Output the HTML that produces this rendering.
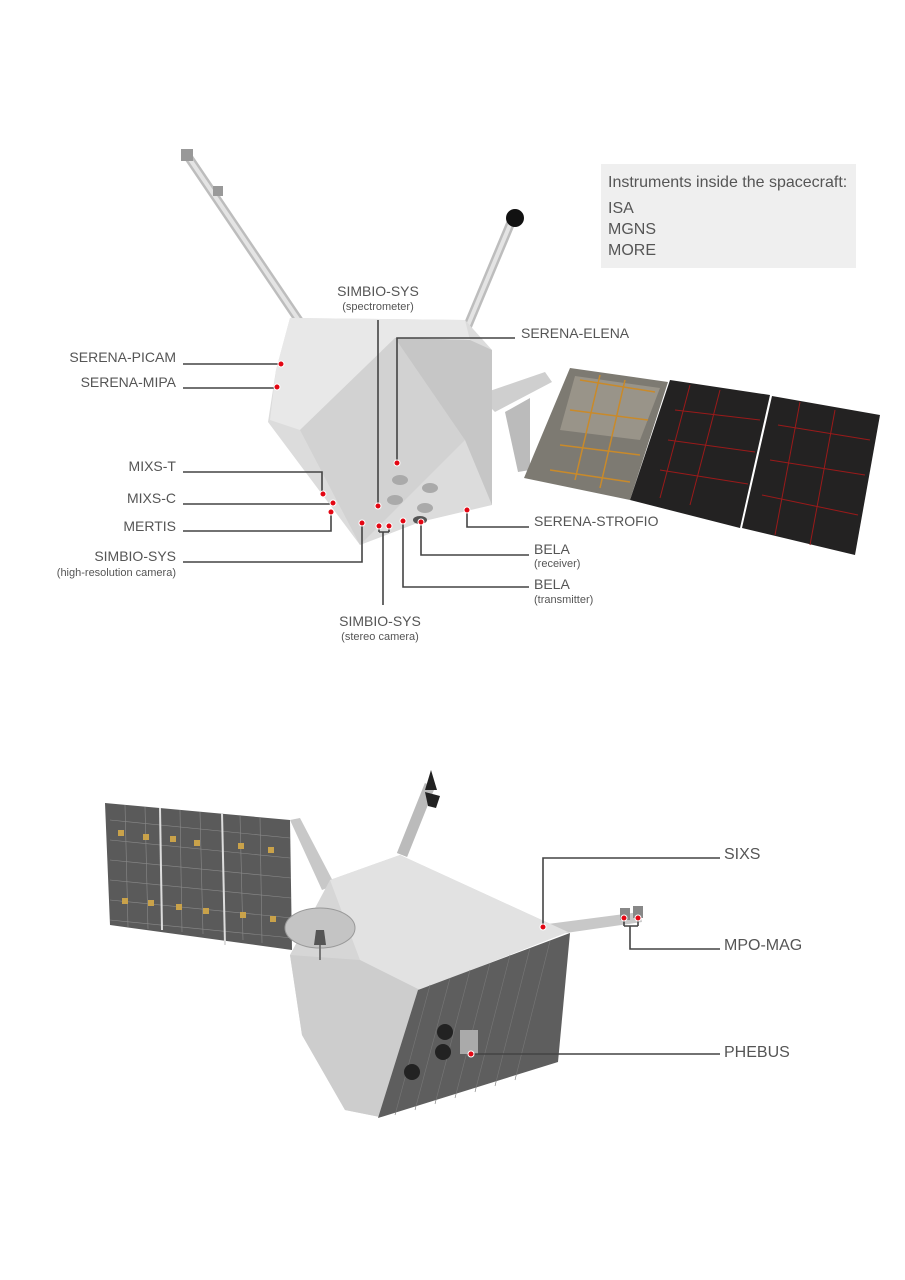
<!DOCTYPE html>
<html><head><meta charset="utf-8"><style>
html,body{margin:0;padding:0;background:#fff;}
svg{display:block;}
text{font-family:"Liberation Sans Narrow","Liberation Sans",sans-serif;fill:#555;}
.l{font-size:14px;}
.b{font-size:16px;}
.s{font-size:11px;}
.ln{stroke:#444;stroke-width:1.6;fill:none;}
.d{fill:#e30613;stroke:#fff;stroke-width:1;}
</style></head><body>
<svg width="905" height="1280" viewBox="0 0 905 1280" xmlns="http://www.w3.org/2000/svg">
<rect width="905" height="1280" fill="#fff"/>
<rect x="601" y="164" width="255" height="104" fill="#efefef"/>
<text class="b" x="608" y="187">Instruments inside the spacecraft:</text>
<text class="b" x="608" y="213">ISA</text>
<text class="b" x="608" y="234">MGNS</text>
<text class="b" x="608" y="255">MORE</text>

<!-- TOP SPACECRAFT -->
<line x1="187" y1="155" x2="300" y2="322" stroke="#bdbdbd" stroke-width="9"/>
<line x1="187" y1="155" x2="300" y2="322" stroke="#e4e4e4" stroke-width="4"/>
<rect x="181" y="149" width="12" height="12" fill="#999"/>
<rect x="213" y="186" width="10" height="10" fill="#999"/>
<line x1="512" y1="220" x2="466" y2="330" stroke="#bdbdbd" stroke-width="9"/>
<line x1="512" y1="220" x2="466" y2="330" stroke="#e4e4e4" stroke-width="4"/>
<circle cx="515" cy="218" r="9" fill="#111"/>
<polygon points="478,395 545,372 552,382 495,412" fill="#cfcfcf"/>
<polygon points="505,412 530,398 530,470 518,472" fill="#bbb"/>
<polygon points="570,368 668,382 630,500 524,478" fill="#7d7a72"/>
<polygon points="575,376 660,388 640,440 560,430" fill="#999489"/>
<polygon points="670,380 770,395 740,528 630,500" fill="#232222"/>
<polygon points="772,396 880,415 855,555 742,528" fill="#232222"/>
<g stroke="#9a1a1a" stroke-width="1" fill="none">
<path d="M675,410 L760,420 M668,440 L755,452 M660,470 L748,484 M690,385 L660,498 M720,390 L690,505 M778,425 L870,440 M770,460 L865,475 M762,495 L858,515 M800,402 L775,535 M835,410 L810,545"/>
</g>
<g stroke="#c98a2a" stroke-width="1.5" fill="none">
<path d="M580,380 L655,392 M570,410 L648,420 M560,445 L640,455 M550,470 L630,482 M600,375 L575,480 M625,380 L600,488"/>
</g>
<polygon points="290,318 465,320 492,350 492,505 420,522 360,545 268,422 276,370" fill="#dcdcdc"/>
<polygon points="290,318 465,320 470,340 395,338 300,430 270,420 276,370" fill="#e8e8e8"/>
<polygon points="300,430 395,338 470,340 465,440 360,545" fill="#d2d2d2"/>
<polygon points="395,338 470,340 492,350 492,505 465,440" fill="#c6c6c6"/>
<g fill="#aaa"><ellipse cx="400" cy="480" rx="8" ry="5"/><ellipse cx="430" cy="488" rx="8" ry="5"/><ellipse cx="395" cy="500" rx="8" ry="5"/><ellipse cx="425" cy="508" rx="8" ry="5"/><ellipse cx="420" cy="520" rx="7" ry="4" fill="#555"/></g>

<path class="ln" d="M183,364 H280"/>
<path class="ln" d="M183,388 H276"/>
<path class="ln" d="M183,472 H322 V494"/>
<path class="ln" d="M183,504 H332"/>
<path class="ln" d="M183,531 H331 V512"/>
<path class="ln" d="M183,562 H362 V523"/>
<path class="ln" d="M378,320 V506"/>
<path class="ln" d="M515,338 H397 V463"/>
<path class="ln" d="M529,527 H467 V510"/>
<path class="ln" d="M529,555 H421 V522"/>
<path class="ln" d="M529,587 H403 V521"/>
<path class="ln" d="M383,605 V532 M379,532 H389 M379,532 V526 M389,532 V526"/>
<g class="d">
<circle cx="281" cy="364" r="3"/><circle cx="277" cy="387" r="3"/>
<circle cx="323" cy="494" r="3"/><circle cx="333" cy="503" r="3"/><circle cx="331" cy="512" r="3"/>
<circle cx="362" cy="523" r="3"/><circle cx="378" cy="506" r="3"/><circle cx="379" cy="526" r="3"/><circle cx="389" cy="526" r="3"/>
<circle cx="397" cy="463" r="3"/><circle cx="467" cy="510" r="3"/><circle cx="421" cy="522" r="3"/><circle cx="403" cy="521" r="3"/>
</g>
<text class="l" x="176" y="362" text-anchor="end">SERENA-PICAM</text>
<text class="l" x="176" y="387" text-anchor="end">SERENA-MIPA</text>
<text class="l" x="176" y="471" text-anchor="end">MIXS-T</text>
<text class="l" x="176" y="503" text-anchor="end">MIXS-C</text>
<text class="l" x="176" y="531" text-anchor="end">MERTIS</text>
<text class="l" x="176" y="561" text-anchor="end">SIMBIO-SYS</text>
<text class="s" x="176" y="576" text-anchor="end">(high-resolution camera)</text>
<text class="l" x="378" y="296" text-anchor="middle">SIMBIO-SYS</text>
<text class="s" x="378" y="310" text-anchor="middle">(spectrometer)</text>
<text class="l" x="521" y="338">SERENA-ELENA</text>
<text class="l" x="534" y="526">SERENA-STROFIO</text>
<text class="l" x="534" y="554">BELA</text>
<text class="s" x="534" y="567">(receiver)</text>
<text class="l" x="534" y="589">BELA</text>
<text class="s" x="534" y="603">(transmitter)</text>
<text class="l" x="380" y="626" text-anchor="middle">SIMBIO-SYS</text>
<text class="s" x="380" y="640" text-anchor="middle">(stereo camera)</text>

<!-- BOTTOM SPACECRAFT -->
<polygon points="105,803 290,820 292,950 110,925" fill="#5a5a5a"/>
<g stroke="#8a8a8a" stroke-width="0.6">
<path d="M110,820 L290,838 M110,840 L290,858 M110,860 L291,878 M110,880 L291,898 M110,900 L292,918 M110,920 L292,938"/>
<path d="M125,805 L128,927 M145,807 L148,929 M180,810 L182,932 M200,812 L203,934 M240,815 L243,940 M260,817 L262,943"/>
</g>
<line x1="160" y1="808" x2="162" y2="930" stroke="#ddd" stroke-width="2"/>
<line x1="222" y1="813" x2="225" y2="945" stroke="#ddd" stroke-width="2"/>
<g fill="#c9a24a"><rect x="118" y="830" width="6" height="6"/><rect x="143" y="834" width="6" height="6"/><rect x="170" y="836" width="6" height="6"/><rect x="194" y="840" width="6" height="6"/><rect x="238" y="843" width="6" height="6"/><rect x="268" y="847" width="6" height="6"/><rect x="122" y="898" width="6" height="6"/><rect x="148" y="900" width="6" height="6"/><rect x="176" y="904" width="6" height="6"/><rect x="203" y="908" width="6" height="6"/><rect x="240" y="912" width="6" height="6"/><rect x="270" y="916" width="6" height="6"/></g>
<polygon points="290,820 300,818 335,885 322,890" fill="#c8c8c8"/>
<line x1="402" y1="855" x2="430" y2="785" stroke="#bbb" stroke-width="11"/>
<polygon points="425,790 437,790 431,770" fill="#222"/>
<polygon points="425,792 440,796 436,808 428,806" fill="#222"/>
<polygon points="540,925 640,912 642,922 545,936" fill="#c8c8c8"/>
<rect x="620" y="908" width="10" height="12" fill="#888"/><rect x="633" y="906" width="10" height="12" fill="#888"/>
<polygon points="290,955 330,880 400,855 568,932 420,990 380,1117 345,1110 302,1035" fill="#d6d6d6"/>
<polygon points="330,880 400,855 568,932 420,990 360,960" fill="#e2e2e2"/>
<polygon points="290,955 360,960 420,990 380,1117 345,1110 302,1035" fill="#cdcdcd"/>
<polygon points="418,990 570,933 558,1062 378,1118" fill="#5e5e5e"/>
<g stroke="#777" stroke-width="0.6"><path d="M430,985 L395,1115 M450,978 L415,1110 M470,970 L435,1104 M490,963 L455,1098 M510,955 L475,1092 M530,948 L495,1086 M550,941 L515,1080"/></g>
<g fill="#222"><circle cx="445" cy="1032" r="8"/><circle cx="443" cy="1052" r="8"/><circle cx="412" cy="1072" r="8"/></g>
<rect x="460" y="1030" width="18" height="24" fill="#aaa"/>
<ellipse cx="320" cy="928" rx="35" ry="20" fill="#c4c4c4" stroke="#999"/>
<line x1="320" y1="930" x2="320" y2="960" stroke="#777" stroke-width="2"/>
<polygon points="316,930 324,930 326,945 314,945" fill="#555"/>

<path class="ln" d="M720,858 H543 V927"/>
<path class="ln" d="M720,949 H630 V926 M624,926 H638 M624,926 V919 M638,926 V919"/>
<path class="ln" d="M720,1054 H470"/>
<g class="d"><circle cx="543" cy="927" r="3"/><circle cx="624" cy="918" r="3"/><circle cx="638" cy="918" r="3"/><circle cx="471" cy="1054" r="3"/></g>
<text class="b" x="724" y="859">SIXS</text>
<text class="b" x="724" y="950">MPO-MAG</text>
<text class="b" x="724" y="1057">PHEBUS</text>
</svg>
</body></html>
